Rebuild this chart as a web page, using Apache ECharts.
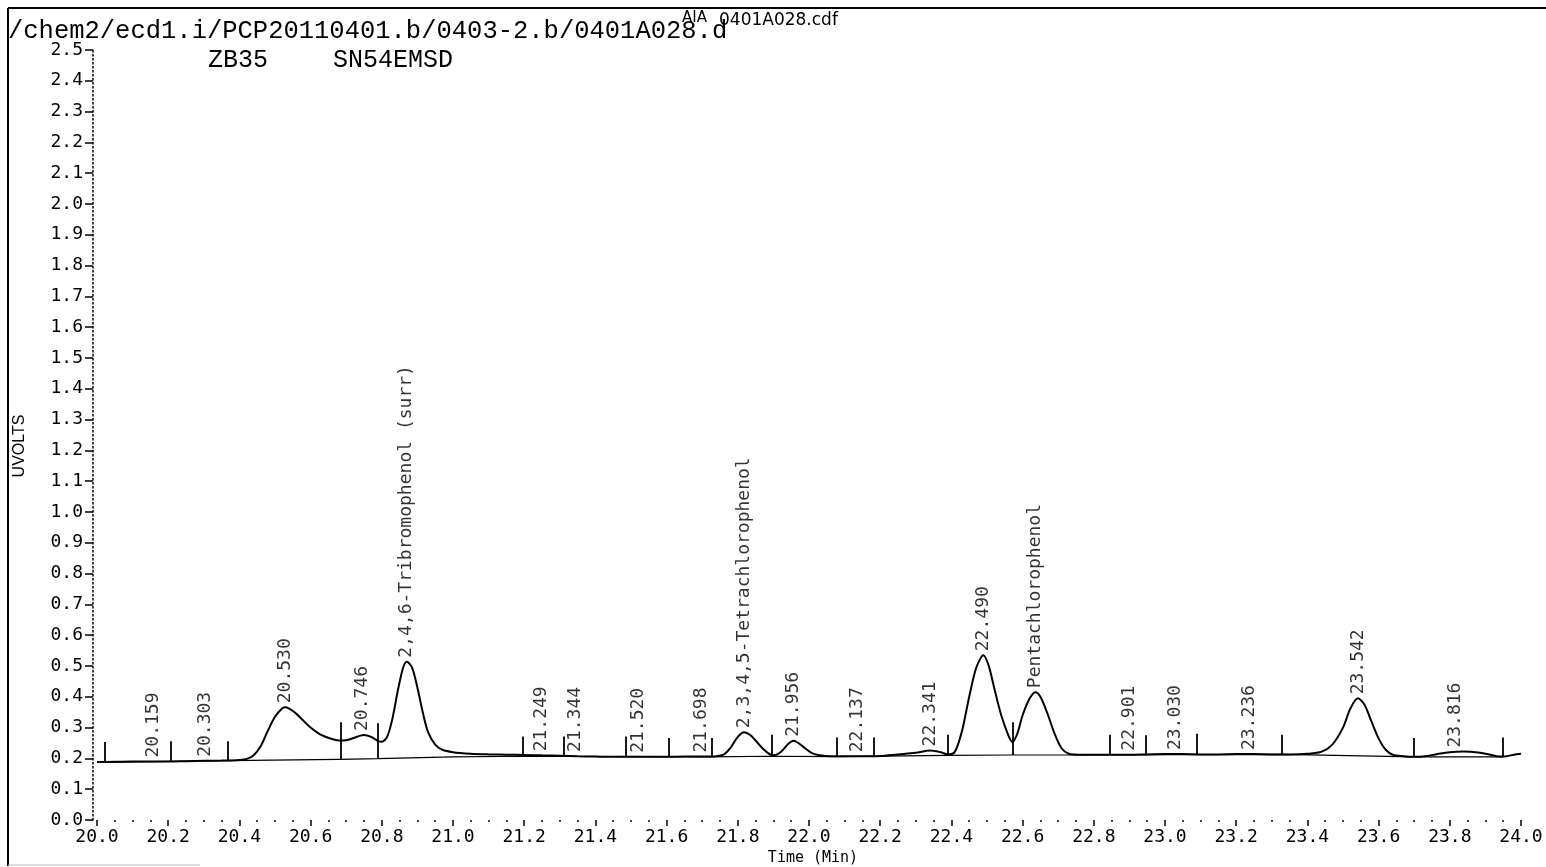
<!DOCTYPE html>
<html>
<head>
<meta charset="utf-8">
<script src="https://cdn.jsdelivr.net/npm/echarts@6/dist/echarts.min.js"></script>
<style>
html,body{margin:0;padding:0;background:#fff;}
#chart{width:1546px;height:867px;}
</style>
</head>
<body>
<div id="chart"></div>
<script>
// ---- data ----
const titleText = "/chem2/ecd1.i/PCP20110401.b/0403-2.b/0401A028.d";
const subTexts = ["ZB35", "SN54EMSD"];
const fileText = "0401A028.cdf";
const fileTag = "AIA";
const yAxisName = "UVOLTS";
const xAxisName = "Time (Min)";

const traceTimes = [20.00,20.05,20.10,20.15,20.20,20.25,20.30,20.35,20.40,20.42,20.44,20.46,20.48,20.50,20.52,20.53,20.545,20.56,20.58,20.60,20.62,20.64,20.66,20.68,20.70,20.72,20.74,20.75,20.77,20.79,20.80,20.815,20.83,20.845,20.86,20.87,20.885,20.90,20.915,20.93,20.95,20.97,21.00,21.05,21.10,21.15,21.20,
21.25,21.30,21.35,21.40,21.45,21.50,21.55,21.60,21.65,21.70,21.74,21.76,21.78,21.80,21.818,21.835,21.85,21.87,21.89,21.90,21.92,21.94,21.956,21.97,21.99,22.01,22.03,22.06,22.10,22.15,22.20,22.25,22.30,22.34,22.37,22.39,22.41,22.43,22.45,22.47,22.49,22.505,22.52,22.54,22.56,22.571,22.585,22.60,22.62,22.636,22.65,22.67,22.69,22.71,22.73,22.76,
22.80,22.85,22.90,22.95,23.00,23.05,23.10,23.15,23.20,23.25,23.30,23.35,23.40,23.44,23.47,23.50,23.52,23.542,23.56,23.58,23.60,23.62,23.64,23.67,23.70,23.73,23.76,23.80,23.84,23.88,23.91,23.94,23.96,23.98,24.00];
const traceValues = [0.188,0.189,0.190,0.190,0.190,0.191,0.192,0.193,0.195,0.198,0.210,0.240,0.290,0.335,0.362,0.366,0.358,0.345,0.322,0.300,0.283,0.271,0.263,0.258,0.259,0.266,0.274,0.276,0.270,0.256,0.254,0.270,0.330,0.420,0.495,0.514,0.495,0.430,0.350,0.285,0.245,0.228,0.220,0.215,0.213,0.212,0.211,
0.210,0.209,0.207,0.206,0.205,0.205,0.205,0.205,0.206,0.206,0.207,0.212,0.235,0.270,0.285,0.276,0.258,0.232,0.213,0.210,0.220,0.245,0.257,0.250,0.232,0.216,0.210,0.207,0.207,0.207,0.208,0.213,0.218,0.226,0.220,0.213,0.222,0.290,0.400,0.495,0.535,0.500,0.430,0.340,0.275,0.253,0.280,0.340,0.395,0.415,0.400,0.345,0.280,0.232,0.215,0.212,
0.212,0.212,0.212,0.213,0.214,0.214,0.213,0.213,0.214,0.214,0.213,0.213,0.215,0.222,0.245,0.300,0.360,0.395,0.375,0.320,0.265,0.228,0.212,0.207,0.205,0.207,0.213,0.220,0.222,0.219,0.213,0.206,0.207,0.212,0.215];

const baseTimes = [20.00,20.37,20.68,20.79,21.00,21.20,21.72,21.89,22.08,22.39,22.57,22.76,23.33,23.70,23.95];
const baseValues = [0.187,0.193,0.197,0.199,0.205,0.207,0.205,0.207,0.206,0.210,0.211,0.211,0.213,0.205,0.205];

const markerTimes = [20.023,20.206,20.368,20.684,20.790,21.196,21.310,21.484,21.607,21.728,21.894,22.079,22.183,22.389,22.571,22.846,22.946,23.090,23.327,23.700,23.950];
const markerTops = [0.253,0.256,0.256,0.317,0.314,0.271,0.271,0.271,0.266,0.266,0.277,0.268,0.268,0.277,0.317,0.277,0.275,0.280,0.277,0.266,0.268];
const markerBottoms = [0.188,0.190,0.193,0.197,0.199,0.207,0.207,0.205,0.205,0.205,0.207,0.206,0.207,0.210,0.211,0.212,0.213,0.213,0.213,0.204,0.205];

const peakTimes = [20.159,20.303,20.530,20.746,20.870,21.249,21.344,21.520,21.698,21.818,21.956,22.137,22.341,22.490,22.636,22.901,23.030,23.236,23.542,23.816];
const peakNames = ["20.159","20.303","20.530","20.746","2,4,6-Tribromophenol (surr)","21.249","21.344","21.520","21.698","2,3,4,5-Tetrachlorophenol","21.956","22.137","22.341","22.490","Pentachlorophenol","22.901","23.030","23.236","23.542","23.816"];
const peakHeights = [0.190,0.192,0.366,0.276,0.514,0.210,0.208,0.205,0.206,0.285,0.257,0.207,0.226,0.535,0.415,0.212,0.214,0.214,0.395,0.222];

const xMin = 20, xMax = 24, xStep = 0.2;
const yMin = 0, yMax = 2.5, yStep = 0.1;

// ---- chart ----
const chart = echarts.init(document.getElementById('chart'), null, {renderer: 'canvas'});
const mono = '"Liberation Mono", "DejaVu Sans Mono", monospace';
const monoSans = '"DejaVu Sans Mono", monospace';

const option = {
  animation: false,
  backgroundColor: '#fff',
  grid: {left: 97, right: 25, top: 50, bottom: 47},
  xAxis: {
    type: 'value', min: xMin, max: xMax, interval: xStep,
    axisLine: {show: false},
    axisTick: {show: true, length: 6, lineStyle: {color: '#000', width: 1.5}},
    minorTick: {show: true, splitNumber: 4, length: 2, lineStyle: {color: '#000', width: 1.5}},
    splitLine: {show: false},
    axisLabel: {
      color: '#000', fontFamily: monoSans, fontSize: 18, margin: 8,
      showMinLabel: true, showMaxLabel: true,
      formatter: v => v.toFixed(1)
    }
  },
  yAxis: {
    type: 'value', min: yMin, max: yMax, interval: yStep, offset: 4,
    axisLine: {show: true, lineStyle: {color: '#000', width: 1.5, type: [1.5, 2.5]}},
    axisTick: {show: true, length: 8, lineStyle: {color: '#000', width: 1.5}},
    splitLine: {show: false},
    axisLabel: {
      color: '#000', fontFamily: monoSans, fontSize: 18, margin: 10,
      formatter: v => v.toFixed(1)
    }
  },
  series: [
    {
      type: 'line', name: 'baseline', silent: true,
      data: baseTimes.map((t, i) => [t, baseValues[i]]),
      showSymbol: false, lineStyle: {color: '#000', width: 1.2}, z: 2
    },
    {
      type: 'line', name: 'trace', silent: true,
      data: traceTimes.map((t, i) => [t, traceValues[i]]),
      showSymbol: false, smooth: 0.3,
      lineStyle: {color: '#000', width: 2}, z: 3
    },
    {
      type: 'lines', coordinateSystem: 'cartesian2d', silent: true,
      data: markerTimes.map((t, i) => ({coords: [[t, markerBottoms[i]], [t, markerTops[i]]]})),
      lineStyle: {color: '#000', width: 1.8, opacity: 1}, z: 4
    },
    {
      type: 'scatter', silent: true, symbolSize: 0,
      data: peakTimes.map((t, i) => ({name: peakNames[i], value: [t, peakHeights[i]]})),
      label: {
        show: true, formatter: p => p.name, position: 'top', distance: 4,
        rotate: 90, align: 'left', verticalAlign: 'middle',
        color: '#000', fontFamily: monoSans, fontSize: 18
      },
      z: 5
    }
  ],
  graphic: [
    {type: 'line', shape: {x1: 8, y1: 8, x2: 1546, y2: 8}, style: {stroke: '#000', lineWidth: 2}},
    {type: 'line', shape: {x1: 8, y1: 8, x2: 8, y2: 866}, style: {stroke: '#000', lineWidth: 2}},
    {type: 'line', shape: {x1: 8, y1: 865, x2: 200, y2: 865}, style: {stroke: '#bbb', lineWidth: 1}},
    {type: 'text', left: 8, top: 18, style: {text: titleText, font: '25.5px ' + mono, fill: '#000'}},
    {type: 'text', left: 208, top: 48, style: {text: subTexts[0], font: '25px ' + mono, fill: '#000'}},
    {type: 'text', left: 333, top: 48, style: {text: subTexts[1], font: '25px ' + mono, fill: '#000'}},
    {type: 'text', left: 682, top: 11, style: {text: fileTag, font: '15px "DejaVu Sans", sans-serif', fill: '#000'}},
    {type: 'text', left: 719, top: 12, style: {text: fileText, font: '17px "DejaVu Sans", sans-serif', fill: '#000'}},
    {type: 'text', x: 20, y: 446, rotation: Math.PI / 2,
      style: {text: yAxisName, font: '16px "Liberation Sans", sans-serif', fill: '#000', align: 'center', verticalAlign: 'middle'}},
    {type: 'text', x: 813, y: 858, style: {text: xAxisName, font: '15px ' + monoSans, fill: '#000', align: 'center', verticalAlign: 'middle'}}
  ]
};
chart.setOption(option);
</script>
</body>
</html>
